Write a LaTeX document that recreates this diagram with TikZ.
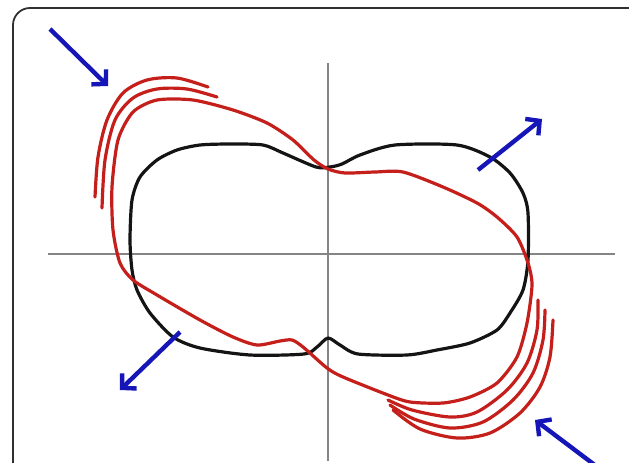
\documentclass[tikz,border=0pt]{standalone}
\usepackage{xcolor}
\usepackage{tikz}
\usetikzlibrary{arrows.meta}
\definecolor{tracered}{HTML}{C41F1B}
\definecolor{pushblue}{HTML}{1616B8}
\definecolor{axisgray}{HTML}{858585}
\definecolor{framegray}{HTML}{303030}

\begin{document}
\begin{tikzpicture}[x=1pt, y=-1pt,
  outline/.style={black!92, line width=3.2pt, line join=round},
  trace/.style={tracered, line width=3.2pt, line join=round, line cap=round},
  push/.style={pushblue, line width=4.4pt, -{Straight Barb[length=10pt, width=21pt]}}]
\useasboundingbox (0,0) rectangle (629,463);
\clip (0,0) rectangle (629,463);
\draw[framegray, line width=1.8pt, rounded corners=17pt] (13,490) -- (13,8) -- (660,8);
% Axes
\draw[axisgray, line width=1.4pt] (48,254) -- (615,254);
\draw[axisgray, line width=1.4pt] (328,63) -- (328,461);
% Black outline
\draw[outline] plot[smooth cycle, tension=0.45] coordinates {
  (316,167) (283,153) (263,145) (230,144) (200,145) (177,150) (157,160) (140,177)
  (132,200) (130,240) (132,270) (137,290) (150,313) (173,337) (200,348) (250,355)
  (304,354) (317,347) (328,338) (340,345) (358,354) (407,355) (437,350) (470,343)
  (497,330) (510,313) (523,290) (528,260) (528,213) (523,193) (510,173) (490,157)
  (457,145) (395,145) (360,155) (342,164) (330,167)};
% Red trace, closed loop
\draw[trace] plot[smooth cycle, tension=0.45] coordinates {
  (328,169) (345,173) (375,172) (403,172) (443,187) (477,203) (497,217) (517,237)
  (528,263) (532,285) (527,323) (517,357) (497,383) (470,397) (443,403) (410,402)
  (388,395) (343,377) (327,368) (303,347) (292,340) (280,341) (257,345) (233,337)
  (200,320) (157,295) (133,280) (120,263) (113,230) (112,187) (118,140) (133,112)
  (157,100) (193,100) (233,110) (267,123) (293,140) (314,160)};
% Red trace, outer arcs
\draw[trace] plot[smooth, tension=0.5] coordinates {
  (95,197) (98,157) (107,120) (123,93) (147,80) (177,78) (208,87)};
\draw[trace] plot[smooth, tension=0.5] coordinates {
  (102,208) (105,160) (115,120) (133,98) (157,89) (187,89) (217,97)};
\draw[trace] plot[smooth, tension=0.5] coordinates {
  (538,300) (537,330) (527,363) (507,390) (477,412) (450,417) (412,410) (388,400)};
\draw[trace] plot[smooth, tension=0.5] coordinates {
  (545,310) (543,340) (533,373) (513,400) (483,422) (450,428) (414,419) (390,405)};
\draw[trace] plot[smooth, tension=0.5] coordinates {
  (553,320) (550,357) (540,387) (520,413) (490,433) (457,438) (420,429) (393,410)};
% Blue arrows
\coordinate (tl tail) at (50,29);
\coordinate (tl tip) at (108,86);
\coordinate (tr tail) at (478,170);
\coordinate (tr tip) at (542,119);
\coordinate (bl tail) at (180,332);
\coordinate (bl tip) at (120,390);
\coordinate (br tail) at (612,478);
\coordinate (br tip) at (535,420);
\draw[push] (tl tail) -- (tl tip);
\draw[push] (tr tail) -- (tr tip);
\draw[push] (bl tail) -- (bl tip);
\draw[push] (br tail) -- (br tip);
\end{tikzpicture}
\end{document}
